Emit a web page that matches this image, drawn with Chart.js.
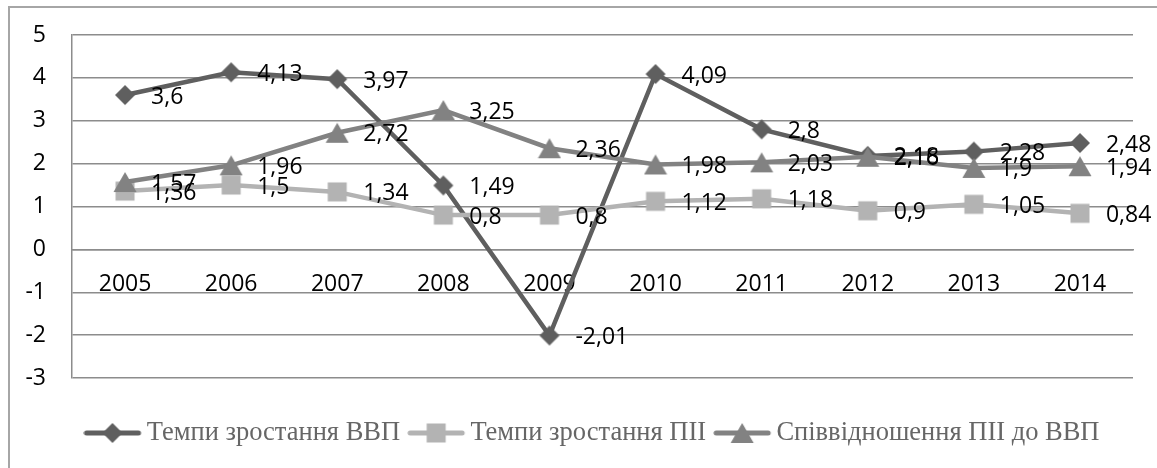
<!DOCTYPE html>
<html>
<head>
<meta charset="utf-8">
<script src="https://cdn.jsdelivr.net/npm/chart.js@4.4.1/dist/chart.umd.min.js"></script>
<style>
  html, body { margin: 0; padding: 0; background: #fff; overflow: hidden; }
  #frame { position: absolute; left: 8px; top: 6px; width: 1149px; height: 462px;
           border-left: 2px solid #a6a6a6; border-top: 2px solid #a6a6a6; box-sizing: border-box; }
  #wrap { position: absolute; left: 0; top: 0; width: 1157px; height: 468px; }
</style>
</head>
<body>
<div id="frame"></div>
<div id="wrap"><canvas id="growthChart" width="1157" height="468"></canvas></div>
<script>
  // DATA
  const years = ['2005', '2006', '2007', '2008', '2009', '2010', '2011', '2012', '2013', '2014'];
  const gdpGrowth = [3.6, 4.13, 3.97, 1.49, -2.01, 4.09, 2.8, 2.18, 2.28, 2.48];
  const fdiGrowth = [1.36, 1.5, 1.34, 0.8, 0.8, 1.12, 1.18, 0.9, 1.05, 0.84];
  const fdiToGdp = [1.57, 1.96, 2.72, 3.25, 2.36, 1.98, 2.03, 2.16, 1.9, 1.94];
  const seriesNames = ['Темпи зростання ВВП', 'Темпи зростання ПІІ', 'Співвідношення ПІІ до ВВП'];
  const yMin = -3, yMax = 5, yStep = 1;

  const colors = ['#5f5f5f', '#b3b3b3', '#828282'];
  const GRID = '#8c8c8c';

  // marker canvases (Excel style: diamond, square, triangle)
  function drawShape(ctx, shape, cx, cy, color) {
    ctx.fillStyle = color;
    ctx.beginPath();
    if (shape === 'diamond') {
      ctx.moveTo(cx, cy - 10); ctx.lineTo(cx + 10, cy); ctx.lineTo(cx, cy + 10); ctx.lineTo(cx - 10, cy);
    } else if (shape === 'square') {
      ctx.rect(cx - 9.5, cy - 9.5, 19, 19);
    } else {
      ctx.moveTo(cx, cy - 10); ctx.lineTo(cx + 11.5, cy + 10); ctx.lineTo(cx - 11.5, cy + 10);
    }
    ctx.closePath();
    ctx.fill();
  }
  function makeMarker(shape, color) {
    const c = document.createElement('canvas');
    c.width = 24; c.height = 22;
    drawShape(c.getContext('2d'), shape, 12, 11, color);
    return c;
  }
  // legend symbol: line + marker, drawn in the left 58px of a 72px wide image
  function makeLegendSymbol(shape, color) {
    const c = document.createElement('canvas');
    c.width = 72; c.height = 24;
    const ctx = c.getContext('2d');
    ctx.strokeStyle = color;
    ctx.lineWidth = 5;
    ctx.lineCap = 'round';
    ctx.beginPath(); ctx.moveTo(3, 12); ctx.lineTo(55, 12); ctx.stroke();
    drawShape(ctx, shape, 29, 12, color);
    return c;
  }
  const shapes = ['diamond', 'square', 'triangle'];
  const markers = shapes.map((s, i) => makeMarker(s, colors[i]));
  const legendSymbols = shapes.map((s, i) => makeLegendSymbol(s, colors[i]));

  // DATA LABELS to the right of every point
  const dataLabels = {
    id: 'dataLabels',
    afterDatasetsDraw(chart) {
      const ctx = chart.ctx;
      ctx.save();
      ctx.font = '23px "Open Sans"';
      ctx.fillStyle = '#000';
      ctx.textAlign = 'left';
      ctx.textBaseline = 'middle';
      chart.data.datasets.forEach((ds, i) => {
        chart.getDatasetMeta(i).data.forEach((pt, j) => {
          ctx.fillText(String(ds.data[j]).replace('.', ','), pt.x + 26, pt.y + 2);
        });
      });
      ctx.restore();
    }
  };

  function makeDataset(i, values) {
    return {
      label: seriesNames[i],
      data: values,
      borderColor: colors[i],
      backgroundColor: colors[i],
      borderWidth: 4.5,
      pointStyle: markers[i],
      pointRadius: 10,
      pointHoverRadius: 10,
      tension: 0,
      fill: false,
      order: 3 - i
    };
  }

  function createChart() {
    const ctx = document.getElementById('growthChart').getContext('2d');
    new Chart(ctx, {
      type: 'line',
      data: {
        labels: years,
        datasets: [makeDataset(0, gdpGrowth), makeDataset(1, fdiGrowth), makeDataset(2, fdiToGdp)]
      },
      options: {
        responsive: false,
        animation: false,
        layout: { padding: { top: 35, right: 24, left: 0, bottom: 11.75 } },
        plugins: {
          tooltip: { enabled: false },
          legend: {
            position: 'bottom',
            fullSize: false,
            title: { display: true, text: '', font: { size: 10 }, padding: { top: 0, bottom: 0.75 } },
            labels: {
              usePointStyle: true,
              pointStyleWidth: 28,
              padding: 29,
              color: '#000',
              font: { family: '"Liberation Serif", "Times New Roman", serif', size: 26.5 },
              generateLabels: () => seriesNames.map((name, i) => ({
                text: name,
                pointStyle: legendSymbols[i],
                fillStyle: colors[i],
                strokeStyle: colors[i],
                lineWidth: 0,
                hidden: false,
                datasetIndex: i
              }))
            }
          }
        },
        scales: {
          x: {
            type: 'category',
            offset: true,
            position: { y: 0 },
            grid: { display: false, drawTicks: false },
            border: { display: true, color: GRID, width: 1.5 },
            ticks: { color: '#000', padding: 21, font: { family: '"Open Sans"', size: 23 } },
            afterFit: (s) => { s.height = 23; }
          },
          y: {
            min: yMin,
            max: yMax,
            ticks: { stepSize: yStep, color: '#000', padding: 26, font: { family: '"Open Sans"', size: 23 } },
            grid: { color: GRID, lineWidth: 1.5, drawTicks: false },
            border: { display: true, color: GRID, width: 1.5 },
            afterFit: (s) => { s.width = 72; s.paddingTop = 0; s.paddingBottom = 0; }
          }
        }
      },
      plugins: [dataLabels]
    });
  }

  window.onload = function () {
    createChart();
  };
</script>
</body>
</html>
